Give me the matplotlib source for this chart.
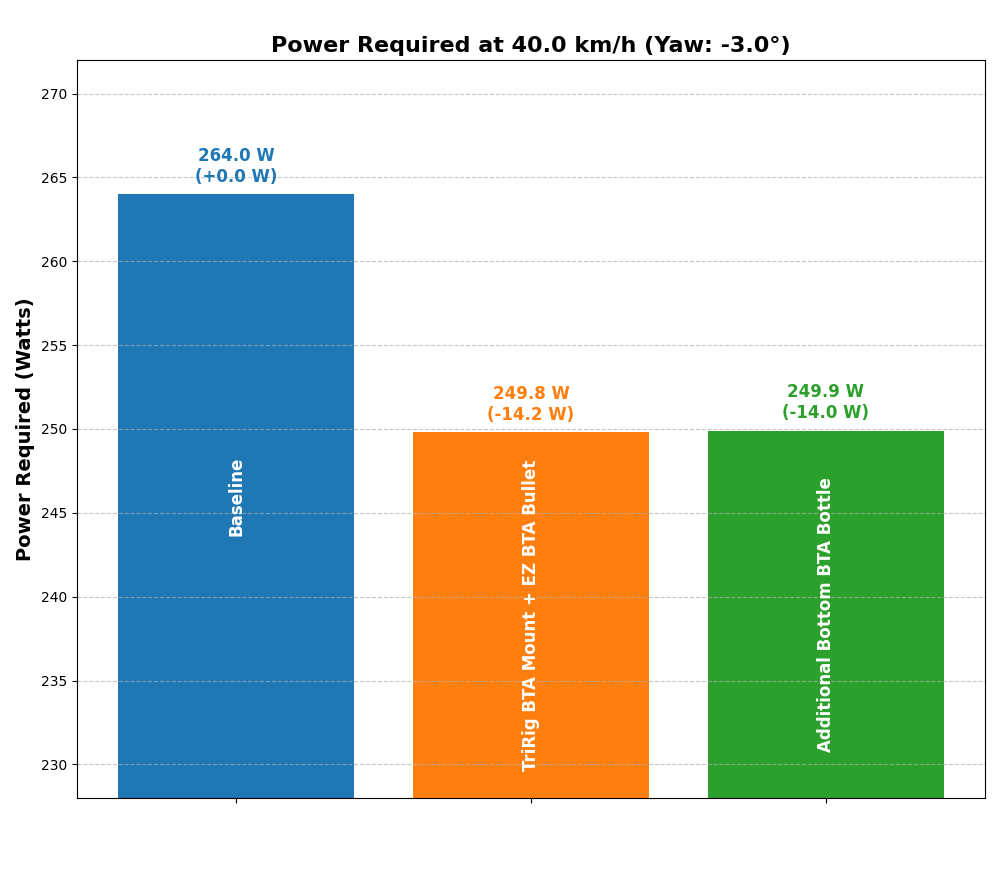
import numpy as np
import matplotlib
matplotlib.use("Agg")
import matplotlib.pyplot as plt

#----------------data
configs = ["Baseline", "TriRig BTA Mount + EZ BTA Bullet", "Additional Bottom BTA Bottle"]
power = [264.0, 249.8, 249.9]
delta = [0.0, -14.2, -14.0]
colors = ["#1f77b4", "#ff7f0e", "#2ca02c"]

y_min, y_max = 228, 272

fig, ax = plt.subplots(figsize=(10, 8.88), dpi=100)
fig.subplots_adjust(left=0.077, right=0.985, top=0.9324, bottom=0.1014)

x = np.arange(len(configs))
bars = ax.bar(x, power, width=0.8, color=colors)

#value labels above each bar
for xi, p, d, c in zip(x, power, delta, colors):
    ax.text(xi, p + 0.5, f"{p:.1f} W\n({d:+.1f} W)", ha="center", va="bottom",
            fontsize=12, fontweight="bold", color=c)
    #config name inside bar
    ax.text(xi, (y_min + p) / 2, configs[xi], ha="center", va="center", rotation=90,
            fontsize=12, fontweight="bold", color="white")

ax.set_ylim(y_min, y_max)
ax.set_xticks(x)
ax.set_xticklabels([])
ax.set_ylabel("Power Required (Watts)", fontsize=14, fontweight="bold")
ax.set_title("Power Required at 40.0 km/h (Yaw: -3.0°)", fontsize=16, fontweight="bold")
ax.grid(axis="y", linestyle="--", alpha=0.7)

plt.savefig("out.png")
